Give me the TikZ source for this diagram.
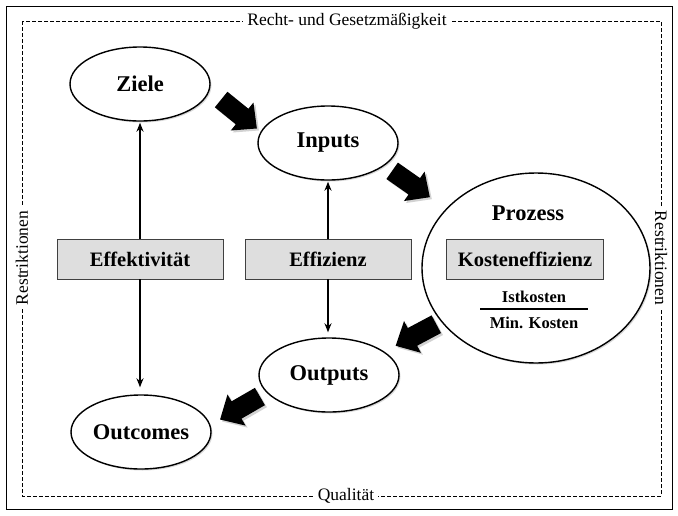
\documentclass[tikz,border=0pt]{standalone}
\usepackage{fontspec}
\setmainfont{Liberation Serif}
\usetikzlibrary{shapes.geometric,shadows,arrows.meta,calc}
\begin{document}
\begin{tikzpicture}[x=1pt,y=-1pt,
  oval/.style={ellipse, draw=black, line width=1.4pt, fill=white,
    minimum width=140pt, minimum height=74pt, inner sep=0pt,
    font=\fontsize{22.5}{24}\selectfont\bfseries,
    drop shadow={shadow xshift=1.5pt, shadow yshift=-1.5pt, fill=black!30}},
  graybox/.style={rectangle, draw=black!75, line width=0.8pt, fill=black!13,
    minimum width=166pt, minimum height=40pt, inner sep=0pt,
    font=\fontsize{20.5}{22}\selectfont\bfseries},
  blockarrow/.style={fill=black,
    drop shadow={shadow xshift=2pt, shadow yshift=-2pt, fill=black!35}},
  thinarrow/.style={line width=1.5pt, -{Stealth[length=9pt,width=7pt]}},
  borderlabel/.style={fill=white, inner xsep=4pt, inner ysep=1pt,
    font=\fontsize{17.5}{19}\selectfont},
  smalllabel/.style={font=\fontsize{16.5}{18}\selectfont\bfseries, inner sep=0pt},
  pics/bigarrow/.style={code={
    \fill[blockarrow] (-23,-10) -- (4,-10) -- (4,-18) -- (23,0) -- (4,18) -- (4,10) -- (-23,10) -- cycle;}}
]
\useasboundingbox (0,0) rectangle (678,515);
% outer frame
\draw[line width=0.8pt] (6,6) rectangle (672,509);
\draw[line width=0.8pt, dash pattern=on 4pt off 2pt] (22,21) rectangle (661,496);
\node[borderlabel] (recht) at (347,21) {Recht- und Gesetzmäßigkeit};
\node[borderlabel] (qual) at (346,496) {Qualität};
\node[borderlabel, rotate=90] (restl) at (22,258) {Restriktionen};
\node[borderlabel, rotate=-90] (restr) at (661,258) {Restriktionen};

% ellipses
\node[oval] (ziele) at (140,84) {Ziele};
\node[oval] (inputs) at (328,143) {Inputs};
\node[oval] (outputs) at (329,375) {Outputs};
\node[oval] (outcomes) at (141,432) {Outcomes};
\node[oval, minimum width=228pt, minimum height=190pt] (prozess) at (536,268) {};

% inside Prozess
\node[font=\fontsize{22.5}{24}\selectfont\bfseries, inner sep=0pt] (ptitle) at (528,213) {Prozess};
\node[graybox, minimum width=157pt] (kosten) at (525,259) {Kosteneffizienz};
\node[smalllabel] (ist) at (534,297) {Istkosten};
\node[smalllabel] (min) at (534,323) {Min. Kosten};
\coordinate (fl) at (480,309);
\coordinate (fr) at (588,309);
\draw[line width=1.5pt] (fl) -- (fr);

% gray boxes
\node[graybox] (effekt) at (140,259) {Effektivität};
\node[graybox] (effiz) at (328,259) {Effizienz};

% thin arrows
\draw[thinarrow, shorten >=1pt] (effekt) -- (ziele);
\draw[thinarrow, shorten >=7pt] (effekt.south) -- (effekt.south |- outcomes.north);
\draw[thinarrow, shorten >=1pt] (effiz) -- (inputs);
\draw[thinarrow, shorten >=5pt] (effiz.south) -- (effiz.south |- outputs.north);

% block arrows
\pic[rotate=-39] (a1) at (239,114) {bigarrow};
\pic[rotate=-35] (a2) at (411,184) {bigarrow};
\pic[rotate=-152] (a3) at (416,335) {bigarrow};
\pic[rotate=-150] (a4) at (240,408) {bigarrow};
\end{tikzpicture}
\end{document}
